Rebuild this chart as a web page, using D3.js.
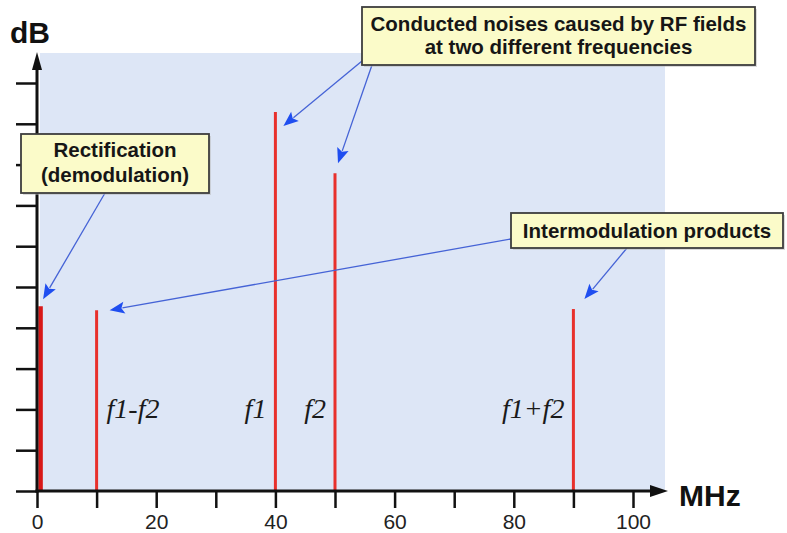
<!DOCTYPE html>
<html>
<head>
<meta charset="utf-8">
<script src="https://cdn.jsdelivr.net/npm/d3@7"></script>
<style>
  html, body { margin: 0; padding: 0; background: #ffffff; }
  svg { display: block; }
</style>
</head>
<body>
<svg id="chart" width="787" height="533"></svg>
<script>
// ---- data ----
const freqs = [0.6, 10, 40, 50, 90];            // MHz
const levels = [4.53, 4.43, 9.29, 7.79, 4.46];  // dB (arbitrary units)
const lineLabels = ["", "f1-f2", "f1", "f2", "f1+f2"];
const labelSide = ["", "right", "left", "left", "left"];
const xTickValues = [0, 10, 20, 30, 40, 50, 60, 70, 80, 90, 100];
const xTickLabels = ["0", "", "20", "", "40", "", "60", "", "80", "", "100"];
const yTickValues = [0, 1, 2, 3, 4, 5, 6, 7, 8, 9, 10];
const boxTexts = [
  ["Rectification", "(demodulation)"],
  ["Conducted noises caused by RF fields", "at two different frequencies"],
  ["Intermodulation products"]
];
// arrows: box index -> line index
const arrowBox = [0, 1, 1, 2, 2];
const arrowTarget = [0, 2, 3, 1, 4];

// ---- layout ----
const svg = d3.select("#chart");
const x = d3.scaleLinear().domain([0, 100]).range([37, 633]);
const y = d3.scaleLinear().domain([0, 10]).range([491, 83]);

// background panel
svg.append("rect")
  .attr("x", 40).attr("y", 53)
  .attr("width", 625).attr("height", 491 - 53)
  .attr("fill", "#dde6f6");

// red spectral lines
svg.append("g").selectAll("line")
  .data(freqs)
  .join("line")
  .attr("x1", d => x(d)).attr("x2", d => x(d))
  .attr("y1", y(0))
  .attr("y2", (d, i) => y(levels[i]))
  .attr("stroke", (d, i) => i === 0 ? "#d81818" : "#e8302c")
  .attr("stroke-width", (d, i) => i === 0 ? 4.5 : 3);

// line labels
svg.append("g").selectAll("text")
  .data(lineLabels)
  .join("text")
  .attr("x", (d, i) => labelSide[i] === "right" ? x(freqs[i]) + 10 : x(freqs[i]) - 9)
  .attr("y", 418)
  .attr("text-anchor", (d, i) => labelSide[i] === "right" ? "start" : "end")
  .attr("font-family", "'Liberation Serif', 'Times New Roman', serif")
  .attr("font-style", "italic")
  .attr("font-size", 28)
  .attr("fill", "#1a1a1a")
  .text(d => d);

// x axis
const xAxis = d3.axisBottom(x)
  .tickValues(xTickValues)
  .tickSize(17)
  .tickPadding(6)
  .tickFormat((d, i) => xTickLabels[i]);
const gx = svg.append("g").attr("transform", `translate(0,${y(0)})`).call(xAxis);
gx.select(".domain").remove();
gx.selectAll(".tick line").attr("stroke", "#111").attr("stroke-width", 2.5);
gx.selectAll(".tick text")
  .attr("font-family", "'Liberation Sans', Arial, sans-serif")
  .attr("font-size", 21)
  .attr("fill", "#222");

// y axis
const yAxis = d3.axisLeft(y).tickValues(yTickValues).tickSize(21).tickFormat("");
const gy = svg.append("g").attr("transform", `translate(${x(0)},0)`).call(yAxis);
gy.select(".domain").remove();
gy.selectAll(".tick line").attr("stroke", "#111").attr("stroke-width", 2.5);

// axis lines with arrows
svg.append("line")
  .attr("x1", x(0) - 1.5).attr("x2", 652)
  .attr("y1", y(0)).attr("y2", y(0))
  .attr("stroke", "#111").attr("stroke-width", 3);
svg.append("path")
  .attr("d", `M650,${y(0) - 6}L668,${y(0)}L650,${y(0) + 6}Z`)
  .attr("fill", "#111");
svg.append("line")
  .attr("x1", x(0)).attr("x2", x(0))
  .attr("y1", y(0) + 1.5).attr("y2", 68)
  .attr("stroke", "#111").attr("stroke-width", 3);
svg.append("path")
  .attr("d", `M${x(0) - 5},70L${x(0)},52L${x(0) + 5},70Z`)
  .attr("fill", "#111");

// axis titles
svg.append("text")
  .attr("x", 10).attr("y", 43)
  .attr("font-family", "'Liberation Sans', Arial, sans-serif")
  .attr("font-weight", "bold").attr("font-size", 30)
  .attr("fill", "#111")
  .text("dB");
svg.append("text")
  .attr("x", 679).attr("y", 506)
  .attr("font-family", "'Liberation Sans', Arial, sans-serif")
  .attr("font-weight", "bold").attr("font-size", 30)
  .attr("fill", "#111")
  .text("MHz");

// annotation boxes (pixel layout)
const boxes = [
  { x: 21, y: 134, w: 188, h: 59, base: [157, 182] },
  { x: 362, y: 7, w: 393, h: 58, base: [31, 54] },
  { x: 511, y: 213, w: 272, h: 35, base: [238] }
];
// arrow starting points on the boxes, and tip offsets from line tops
const arrowStart = [[105, 193], [362, 61], [372, 65], [511, 239], [627, 248]];
const tipOffset = [[2.5, -7], [8, 14], [3, -10], [13, 0], [11, -10]];

// arrows
const ag = svg.append("g");
arrowStart.forEach((s, k) => {
  const t = arrowTarget[k];
  const tx = x(freqs[t]) + tipOffset[k][0];
  const ty = y(levels[t]) + tipOffset[k][1];
  const dx = tx - s[0], dy = ty - s[1];
  const len = Math.hypot(dx, dy);
  const ux = dx / len, uy = dy / len;
  const headL = 15, headW = 6;
  const bx = tx - ux * headL, by = ty - uy * headL;
  ag.append("line")
    .attr("x1", s[0]).attr("y1", s[1])
    .attr("x2", bx + ux * 2).attr("y2", by + uy * 2)
    .attr("stroke", "#4563d6").attr("stroke-width", 1.3);
  ag.append("path")
    .attr("d", `M${tx},${ty}L${bx - uy * headW},${by + ux * headW}L${bx + ux * 3},${by + uy * 3}L${bx + uy * headW},${by - ux * headW}Z`)
    .attr("fill", "#1f4ef0");
});

const bg = svg.append("g");
boxes.forEach((b, i) => {
  bg.append("rect")
    .attr("x", b.x + 2).attr("y", b.y + 2)
    .attr("width", b.w).attr("height", b.h)
    .attr("fill", "#b8b8b8").attr("opacity", 0.5);
  bg.append("rect")
    .attr("x", b.x).attr("y", b.y)
    .attr("width", b.w).attr("height", b.h)
    .attr("fill", "#fbfbc9")
    .attr("stroke", "#3d3d3d").attr("stroke-width", 1.8);
  boxTexts[i].forEach((line, j) => {
    bg.append("text")
      .attr("x", b.x + b.w / 2).attr("y", b.base[j])
      .attr("text-anchor", "middle")
      .attr("font-family", "'Liberation Sans', Arial, sans-serif")
      .attr("font-weight", "bold").attr("font-size", 20.5)
      .attr("fill", "#161616")
      .text(line);
  });
});
</script>
</body>
</html>
